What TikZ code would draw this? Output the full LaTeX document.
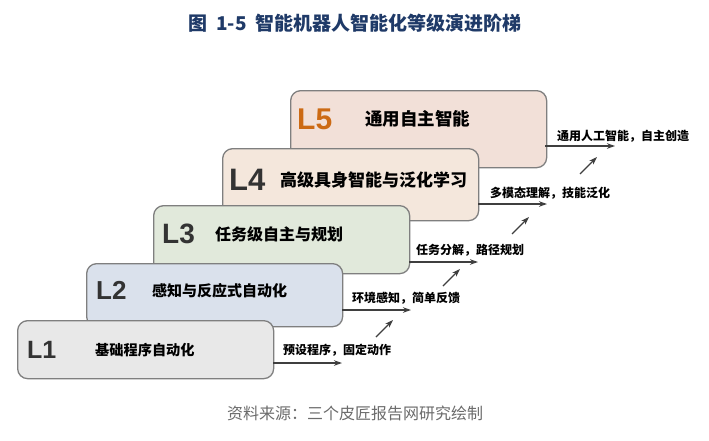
\documentclass[tikz,border=0pt]{standalone}
\usepackage{fontspec}
\setmainfont{Noto Sans CJK SC}
\newfontfamily\latinb{Liberation Sans}
\usetikzlibrary{arrows.meta}
\definecolor{titleblue}{HTML}{1F3A68}
\definecolor{boxline}{HTML}{7F7F7F}
\definecolor{fillA}{HTML}{E8E8E8}
\definecolor{fillB}{HTML}{DAE1EC}
\definecolor{fillC}{HTML}{E1E9DB}
\definecolor{fillD}{HTML}{F4E7DC}
\definecolor{fillE}{HTML}{F2E0D8}
\definecolor{lvtext}{HTML}{333333}
\definecolor{lvorange}{HTML}{CC6A14}
\definecolor{arrgray}{HTML}{3F3F3F}
\definecolor{srcgray}{HTML}{6B6B6B}
\tikzset{
  lvbox/.style={draw=boxline, line width=1.3pt, rounded corners=10pt, anchor=north west, minimum width=256pt, inner sep=0pt},
  lvlabel/.style={anchor=west, inner sep=0pt, text=lvtext, font=\latinb\bfseries},
  lvdesc/.style={anchor=west, inner sep=0pt, text=black, font=\bfseries},
  steplab/.style={anchor=west, inner sep=0pt, text=black, font=\bfseries\fontsize{12}{14}\selectfont},
  arr/.style={draw=arrgray, line width=1.2pt, -{Stealth[length=8pt,width=5.5pt]}},
}
\begin{document}
\begin{tikzpicture}[x=1pt,y=-1pt]
\useasboundingbox (0,0) rectangle (709,440);
\fill[white] (0,0) rectangle (709,440);
% title
\node[inner sep=0pt, text=titleblue, font=\bfseries\fontsize{19}{22}\selectfont] (title) at (355,23) {图\ \ 1-5\ \ 智能机器人智能化等级演进阶梯};
% boxes (back to front)
\node[lvbox, fill=fillE, minimum height=77pt] (b5) at (290,90) {};
\node[lvbox, fill=fillD, minimum height=72pt] (b4) at (222,148) {};
\node[lvbox, fill=fillC, minimum height=68pt] (b3) at (153,205) {};
\node[lvbox, fill=fillB, minimum height=63pt] (b2) at (86,263) {};
\node[lvbox, fill=fillA, minimum height=58pt] (b1) at (17,320) {};
% level labels
\node[lvlabel, text=lvorange, font=\latinb\bfseries\fontsize{30}{30}\selectfont] (l5) at (297,119) {L5};
\node[lvlabel, font=\latinb\bfseries\fontsize{31}{31}\selectfont] (l4) at (229,180) {L4};
\node[lvlabel, font=\latinb\bfseries\fontsize{28}{28}\selectfont] (l3) at (162,234) {L3};
\node[lvlabel, font=\latinb\bfseries\fontsize{26}{26}\selectfont] (l2) at (96,290) {L2};
\node[lvlabel, font=\latinb\bfseries\fontsize{25}{25}\selectfont] (l1) at (27,350) {L1};
% descriptions
\node[lvdesc, font=\bfseries\fontsize{17.5}{20}\selectfont] (d5) at (365,119) {通用自主智能};
\node[lvdesc, font=\bfseries\fontsize{17}{20}\selectfont] (d4) at (280,180) {高级具身智能与泛化学习};
\node[lvdesc, font=\bfseries\fontsize{16}{20}\selectfont] (d3) at (215,234) {任务级自主与规划};
\node[lvdesc, font=\bfseries\fontsize{15}{18}\selectfont] (d2) at (152,291) {感知与反应式自动化};
\node[lvdesc, font=\bfseries\fontsize{14.2}{17}\selectfont] (d1) at (95,350) {基础程序自动化};
% horizontal arrows
\coordinate (h1s) at (273,363); \coordinate (h1e) at (342,363);
\coordinate (h2s) at (342,310); \coordinate (h2e) at (411,310);
\coordinate (h3s) at (409,262); \coordinate (h3e) at (478,262);
\coordinate (h4s) at (478,204); \coordinate (h4e) at (547,204);
\coordinate (h5s) at (545,146); \coordinate (h5e) at (615,146);
\draw[arr] (h1s) -- (h1e);
\draw[arr] (h2s) -- (h2e);
\draw[arr] (h3s) -- (h3e);
\draw[arr] (h4s) -- (h4e);
\draw[arr] (h5s) -- (h5e);
% step labels
\node[steplab] (s1) at (283,350) {预设程序，固定动作};
\node[steplab] (s2) at (352,298) {环境感知，简单反馈};
\node[steplab] (s3) at (416,250) {任务分解，路径规划};
\node[steplab] (s4) at (490,193) {多模态理解，技能泛化};
\node[steplab] (s5) at (557,136) {通用人工智能，自主创造};
% diagonal arrows
\coordinate (g1s) at (376,337); \coordinate (g1e) at (393,320);
\coordinate (g2s) at (443,286); \coordinate (g2e) at (460,269);
\coordinate (g3s) at (512,234); \coordinate (g3e) at (529,217);
\coordinate (g4s) at (580,174); \coordinate (g4e) at (597,157);
\draw[arr] (g1s) -- (g1e);
\draw[arr] (g2s) -- (g2e);
\draw[arr] (g3s) -- (g3e);
\draw[arr] (g4s) -- (g4e);
% source
\node[inner sep=0pt, text=srcgray, font=\fontsize{16}{19}\selectfont] (src) at (355,413) {资料来源：三个皮匠报告网研究绘制};
\end{tikzpicture}
\end{document}
